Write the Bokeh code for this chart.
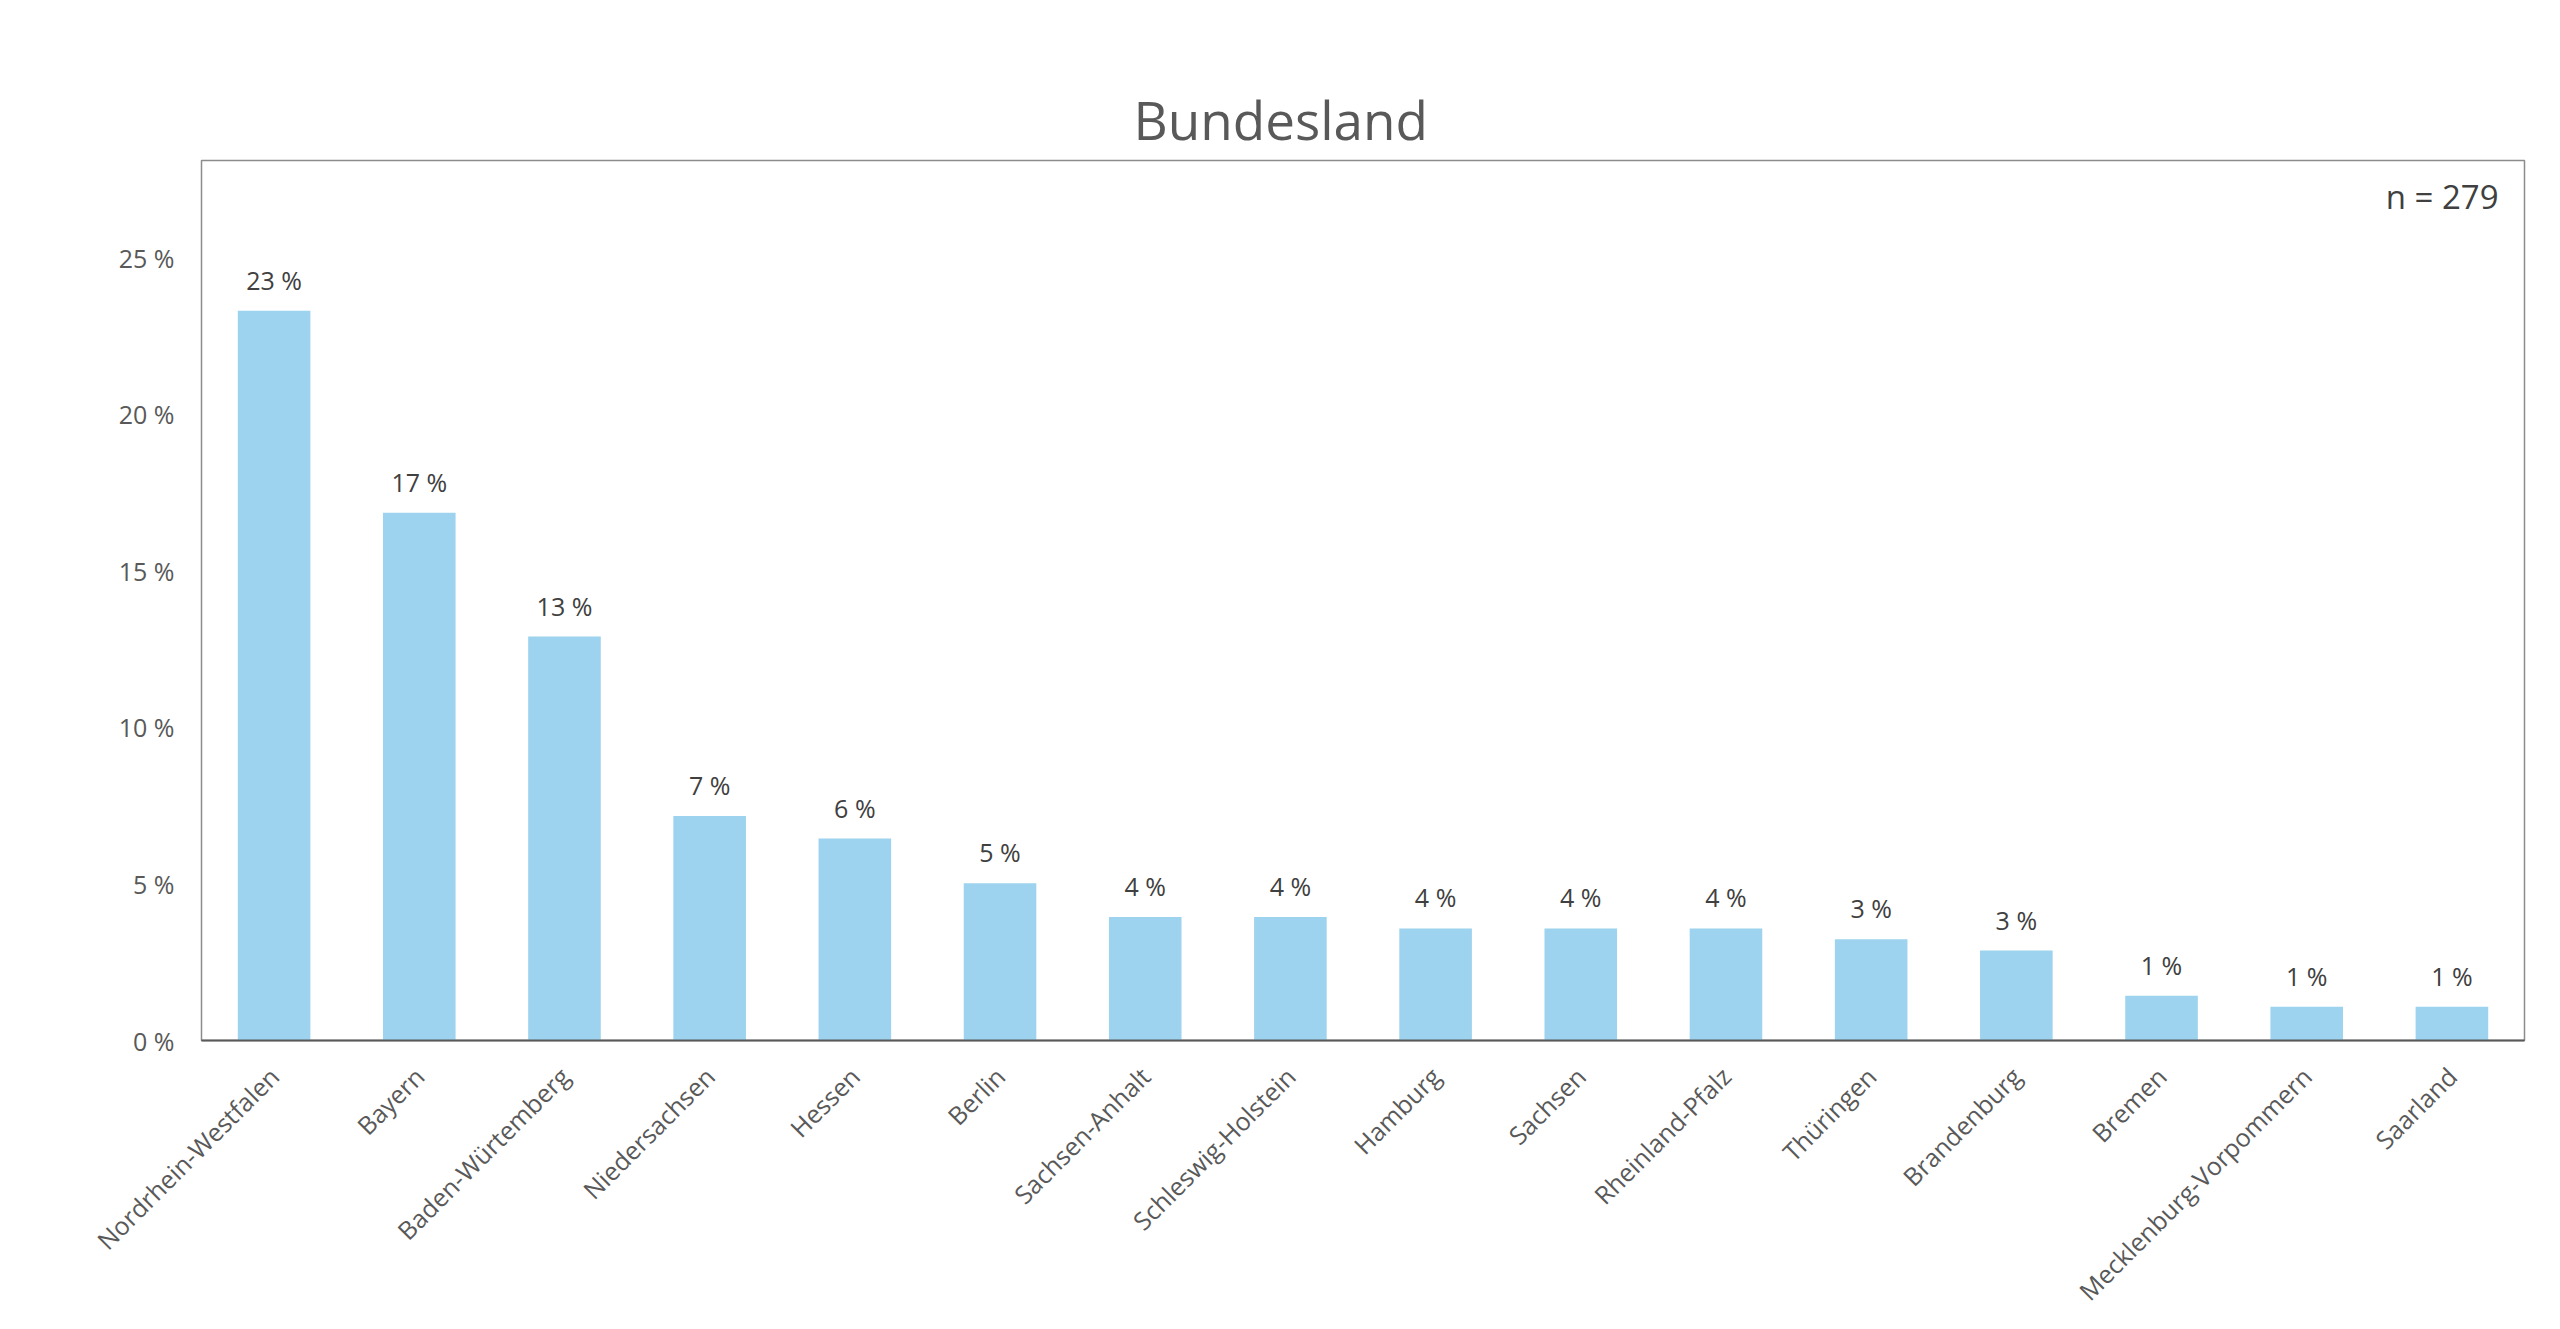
import math
from bokeh.plotting import figure
from bokeh.models import ColumnDataSource, Label, Range1d, FixedTicker, CustomJSTickFormatter, LinearAxis
from bokeh.core.properties import value
from bokeh.embed import file_html
from bokeh.resources import INLINE

states = ["Nordrhein-Westfalen", "Bayern", "Baden-Würtemberg", "Niedersachsen", "Hessen",
          "Berlin", "Sachsen-Anhalt", "Schleswig-Holstein", "Hamburg", "Sachsen",
          "Rheinland-Pfalz", "Thüringen", "Brandenburg", "Bremen",
          "Mecklenburg-Vorpommern", "Saarland"]
shares = [23.30, 16.85, 12.90, 7.17, 6.45, 5.02, 3.94, 3.94, 3.58, 3.58, 3.58, 3.23, 2.87, 1.43, 1.08, 1.08]
share_labels = ["23 %", "17 %", "13 %", "7 %", "6 %", "5 %", "4 %", "4 %", "4 %", "4 %",
                "4 %", "3 %", "3 %", "1 %", "1 %", "1 %"]
y_ticks = [0, 5, 10, 15, 20, 25]
title_text = "Bundesland"
n_text = "n = 279"

FONT = "Open Sans"
TXT = "#595959"
Y_MAX = 28.1

src = ColumnDataSource(dict(state=states, share=shares, lab=share_labels))

W, H = 2544, 1328
p = figure(x_range=states, y_range=Range1d(0, Y_MAX), width=W, height=H,
           output_backend="svg", toolbar_location=None,
           min_border_left=201, min_border_right=20, min_border_top=160, min_border_bottom=288)
p.x_range.range_padding = 0
p.background_fill_color = "white"
p.border_fill_color = "white"
p.outline_line_color = "#8c8c8c"
p.outline_line_width = 1.5
p.grid.visible = False

p.vbar(x="state", top="share", width=0.5, source=src, fill_color="#9dd3ee", line_color=None)
p.text(x="state", y="share", text="lab", source=src, text_align="center", text_baseline="bottom",
       y_offset=-14, text_font=value(FONT), text_font_size="25px", text_color="#404040")

# empty top axis (no ticks at all) used only as a spacer between frame and title
spacer = LinearAxis(ticker=FixedTicker(ticks=[]), axis_line_color=None, major_tick_line_color="white",
                    minor_tick_line_color=None, major_tick_out=55, major_tick_in=0,
                    major_label_standoff=0)
p.add_layout(spacer, "above")

p.title.text = title_text
p.title.align = "left"
p.title.offset = 932
p.title.text_font = FONT
p.title.text_font_size = "53px"
p.title.text_font_style = "normal"
p.title.text_color = TXT
p.title.standoff = 10

# axes
p.yaxis.ticker = FixedTicker(ticks=y_ticks)
p.yaxis.formatter = CustomJSTickFormatter(code="return tick + ' %';")
p.yaxis.axis_line_color = None
p.yaxis.major_tick_line_color = None
p.yaxis.minor_tick_line_color = None
p.yaxis.major_label_standoff = 21
p.yaxis.major_label_text_font = FONT
p.yaxis.major_label_text_font_size = "25px"
p.yaxis.major_label_text_color = TXT

xa = p.below[0]
xa.axis_line_color = "#595959"
xa.axis_line_width = 2
xa.major_tick_line_color = None
xa.minor_tick_line_color = None
xa.major_label_orientation = math.pi / 4
xa.major_label_standoff = 25
xa.major_label_text_font = FONT
xa.major_label_text_font_size = "25px"
xa.major_label_text_color = TXT

p.add_layout(Label(x=len(states), y=Y_MAX, x_offset=-26, y_offset=-36, text=n_text, text_align="right",
                   text_baseline="middle", text_font=FONT, text_font_size="33px", text_color="#404040"))

open("out.html", "w").write(file_html(p, INLINE))
